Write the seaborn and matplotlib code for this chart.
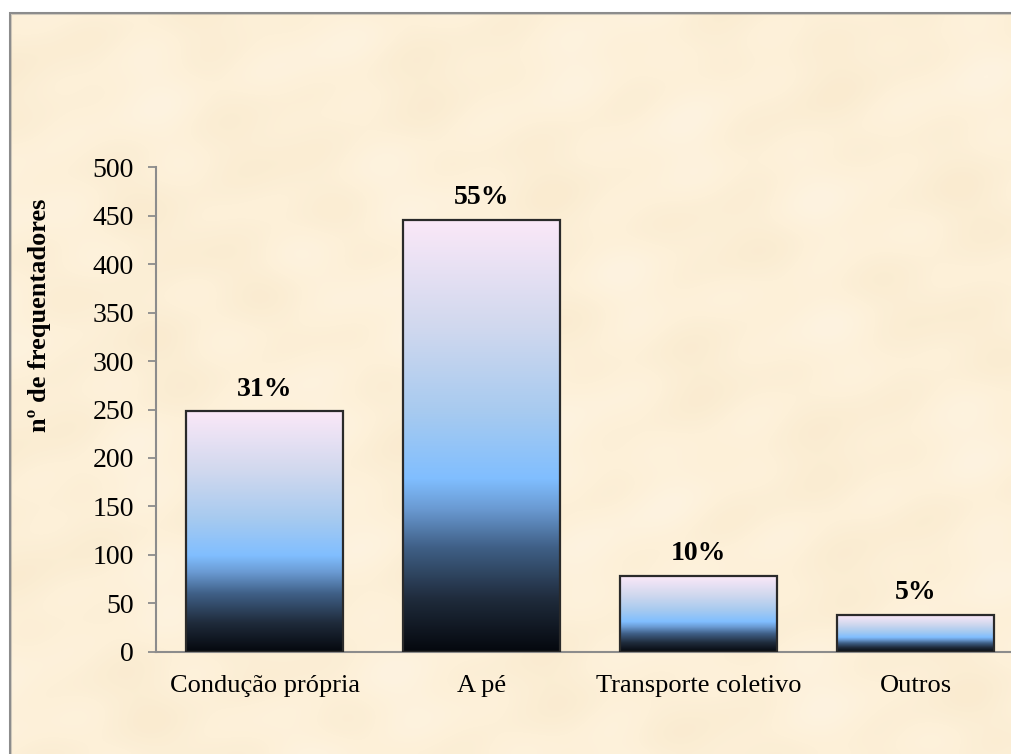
import numpy as np
import pandas as pd
import matplotlib
matplotlib.use("Agg")
import matplotlib.pyplot as plt
from matplotlib.colors import LinearSegmentedColormap
from matplotlib.patches import Rectangle
import seaborn as sns

# Meio de transporte utilizado pelos frequentadores
categorias = ["Condução própria", "A pé", "Transporte coletivo", "Outros"]
frequentadores = [248, 446, 78, 38]
yticks = [0, 50, 100, 150, 200, 250, 300, 350, 400, 450, 500]

df = pd.DataFrame({"categoria": categorias, "n": frequentadores})
total = sum(frequentadores)

sns.set_theme(style="white")
plt.rcParams["font.family"] = ["Liberation Serif", "DejaVu Serif"]

W, H = 1011, 754
fig = plt.figure(figsize=(W / 100, H / 100), dpi=100)
fig.patch.set_facecolor("white")

# parchment panel with grey frame
paper = "#fdf0d8"
frame = Rectangle((9.5 / W, -0.05), 1.2, 1 - 12.5 / H + 0.05,
                  transform=fig.transFigure, facecolor=paper,
                  edgecolor="#8c8c8c", linewidth=2.2, zorder=0)
fig.patches.append(frame)

# soft blotchy texture on the parchment
tex_ax = fig.add_axes([11 / W, 0, 1 - 11 / W, 1 - 14 / H], zorder=0.5)
tex_ax.set_axis_off()
yy, xx = np.mgrid[0:1:200j, 0:1:270j]
tex = (np.sin(xx * 23 + np.sin(yy * 9) * 2.0) * np.cos(yy * 19 + np.cos(xx * 7) * 1.7)
       + 0.6 * np.sin(xx * 47 + yy * 31) * np.cos(xx * 13 - yy * 41))
tex_cmap = LinearSegmentedColormap.from_list("paper", ["#f8e8cb", "#fdf0d8", "#fff6e6"])
tex_ax.imshow(tex, cmap=tex_cmap, aspect="auto", alpha=0.6, interpolation="bicubic")

ax = fig.add_axes([156 / W, (H - 651.7) / H, 868 / W, (651.7 - 167.3) / H], zorder=1)
ax.set_facecolor("none")

sns.barplot(data=df, x="categoria", y="n", ax=ax, width=0.72,
            facecolor="none", edgecolor="#2a2a2a", linewidth=1.6, zorder=3)

# vertical gradient fill for each bar
grad = LinearSegmentedColormap.from_list(
    "bars",
    [(0.00, "#05080e"), (0.12, "#1f2b3b"), (0.24, "#3f5f86"),
     (0.33, "#6a9ad2"), (0.40, "#80beff"), (0.55, "#a6caf0"),
     (0.75, "#d0d8ee"), (1.00, "#fbe8f8")])
g = np.linspace(0, 1, 256).reshape(-1, 1)
for p in ax.patches:
    x0, y0 = p.get_x(), p.get_y()
    w, h = p.get_width(), p.get_height()
    ax.imshow(g, cmap=grad, origin="lower", aspect="auto",
              extent=(x0, x0 + w, y0, y0 + h), zorder=2, interpolation="bilinear")
    pct = round(100 * h / total)
    ax.annotate(f"{pct}%", (x0 + w / 2, y0 + h), xytext=(0, 7),
                textcoords="offset points", ha="center", va="bottom",
                fontsize=20, fontweight="bold", color="black")

ax.set_xlim(-0.5, 3.5)
ax.set_ylim(0, 500)
ax.set_yticks(yticks)
ax.set_xlabel("")
ax.set_ylabel("")

for s in ["top", "right"]:
    ax.spines[s].set_visible(False)
for s in ["left", "bottom"]:
    ax.spines[s].set_color("#8c8c8c")
    ax.spines[s].set_linewidth(1.5)

ax.tick_params(axis="y", length=6, width=1.3, color="#8c8c8c", pad=10,
               labelsize=20, labelcolor="black", left=True, direction="out")
ax.tick_params(axis="x", length=0, pad=17, labelsize=19, labelcolor="black")

fig.text(40 / W, 1 - 315 / H, "nº de frequentadores", rotation=90,
         ha="center", va="center", fontsize=19, fontweight="bold", color="black")

fig.savefig("out.png", dpi=100)
